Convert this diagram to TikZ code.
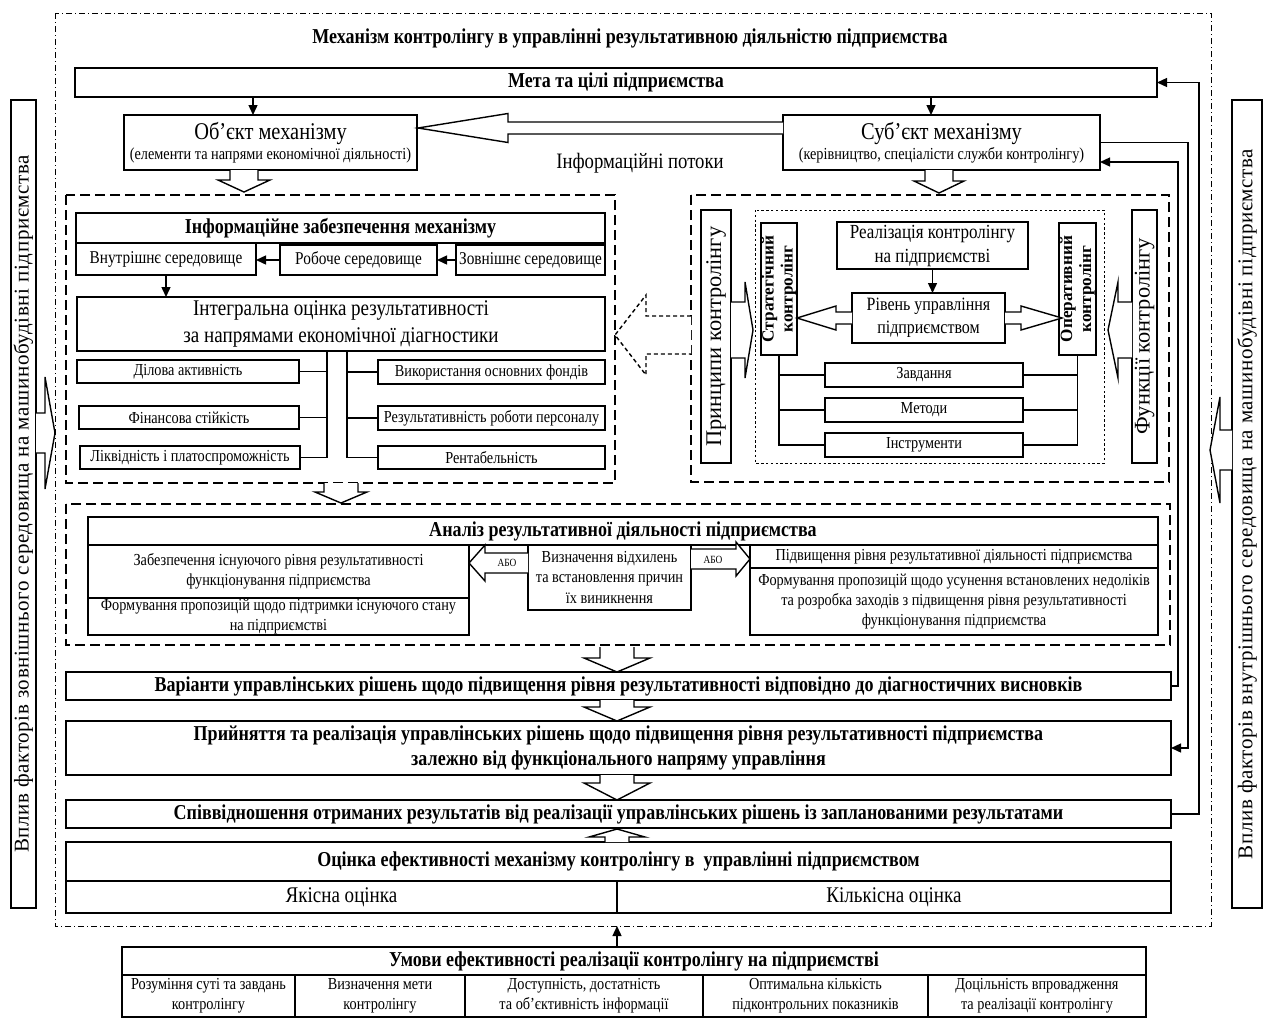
\documentclass[tikz,border=0pt]{standalone}
\usepackage{fontspec}
\setmainfont{Liberation Serif}[FakeStretch=0.85]
\newfontfamily\widefont{Liberation Serif}
\newfontfamily\sidefont{Liberation Serif}[LetterSpace=3]
\usetikzlibrary{calc,arrows.meta}

% font sizes (1 px of the layout grid = 0.5pt)
\newcommand\fBig{\fontsize{10.6}{12.6}\selectfont\bfseries}
\newcommand\fHead{\fontsize{12}{14}\selectfont}
\newcommand\fReg{\fontsize{11.2}{13.6}\selectfont}
\newcommand\fMid{\fontsize{9}{11}\selectfont}
\newcommand\fSm{\fontsize{8.4}{10.2}\selectfont}
\newcommand\fTiny{\fontsize{5.5}{6}\selectfont}
\newcommand\fSide{\sidefont\fontsize{10.5}{12}\selectfont}
\newcommand\fPrin{\widefont\fontsize{11.2}{13}\selectfont}
\newcommand\fRot{\widefont\fontsize{8.6}{9.6}\selectfont\bfseries}

\tikzset{
  box/.style={draw, line width=0.7pt, fill=white, inner sep=0pt, outer sep=0pt, align=center},
  hollow/.style={draw, line width=0.7pt, fill=white, line join=miter},
  dhollow/.style={hollow, dash pattern=on 2pt off 1.5pt},
  link/.style={line width=0.7pt},
  arr/.style={line width=0.7pt, -{Triangle[length=5pt,width=4.5pt]}},
  dashframe/.style={line width=0.9pt, dash pattern=on 5pt off 2.5pt},
  dashdotframe/.style={line width=0.5pt, dash pattern=on 3pt off 1.5pt on 0.5pt off 1.5pt},
  dotframe/.style={line width=0.4pt, dash pattern=on 1.2pt off 1.2pt},
}

% box given by its corners: [options]{name}{x1}{y1}{x2}{y2}{text}
\newcommand\bx[7][]{\node[box,minimum width={(#5-#3)*0.5pt},minimum height={(#6-#4)*0.5pt},#1] (#2) at ({(#3+#5)/2},{(#4+#6)/2}) {#7};}
% vertical hollow arrow: {cx}{y start}{y head base}{y tip}{shaft half}{head half}
\newcommand\hv[7][hollow]{\draw[#1] ({#2-#6},#3) -- ({#2-#6},#4) -- ({#2-#7},#4) -- (#2,#5) -- ({#2+#7},#4) -- ({#2+#6},#4) -- ({#2+#6},#3);}
% horizontal hollow arrow: {cy}{x start}{x head base}{x tip}{shaft half}{head half}
\newcommand\hh[7][hollow]{\draw[#1] (#3,{#2-#6}) -- (#4,{#2-#6}) -- (#4,{#2-#7}) -- (#5,#2) -- (#4,{#2+#7}) -- (#4,{#2+#6}) -- (#3,{#2+#6});}

\begin{document}
\begin{tikzpicture}[x=0.5pt,y=-0.5pt]
\useasboundingbox (0,0) rectangle (1267,1018);

% ---------- frames ----------
\draw[dashdotframe] (55,13) rectangle (1211,926);
\draw[dashframe] (66,195) rectangle (615,483);
\draw[dashframe] (691,195) rectangle (1169,482);
\draw[dotframe] (755,210) rectangle (1104,463);
\draw[dashframe] (66,504) rectangle (1170,645);

% ---------- side blocks ----------
\node[box,rotate=90,minimum width=404pt,minimum height=12.5pt,font=\fSide] (ext) at (23.5,504)
  {Вплив факторів зовнішнього середовища на машинобудівні підприємства};
\node[box,rotate=90,minimum width=404pt,minimum height=15pt,font=\fSide] (int) at (1247,504)
  {Вплив факторів внутрішнього середовища на машинобудівні підприємства};
\hh{433}{36}{45}{55}{20}{56}
\hh{450}{1232}{1220}{1210}{20}{53}

% ---------- top part ----------
\node[font=\fBig] (title) at (630,38) {Механізм контролінгу в управлінні результативною діяльністю підприємства};
\bx[font=\fBig]{meta}{75}{68}{1157}{97}{Мета та цілі підприємства}
\bx[font=\fSm]{obj}{124}{115}{417}{170}{{\fHead Об’єкт механізму}\\(елементи та напрями економічної діяльності)}
\bx[font=\fSm]{sub}{783}{115}{1100}{170}{{\fHead Суб’єкт механізму}\\(керівництво, спеціалісти служби контролінгу)}
\coordinate (m1) at (253,97);
\coordinate (m2) at (931,97);
\draw[arr] (m1) -- (m1 |- obj.north);
\draw[arr] (m2) -- (m2 |- sub.north);
\hh{128}{783}{508}{418}{6}{14.5}
\node[font=\fontsize{11}{13}\selectfont] (flows) at (640,163) {Інформаційні потоки};
\hv{244}{170}{180}{192}{14}{26}
\hv{939}{170}{181}{193}{14}{25}

% ---------- information support ----------
\bx[font=\fBig]{infz}{76}{213}{605}{243}{Інформаційне забезпечення механізму}
\bx[font=\fMid]{vnut}{76}{243}{256}{275}{Внутрішнє середовище}
\bx[font=\fMid]{rob}{280}{245}{437}{275}{Робоче середовище}
\bx[font=\fMid]{zovn}{456}{245}{605}{275}{Зовнішнє середовище}
\bx[font=\fReg]{integ}{77}{297}{605}{351}{Інтегральна оцінка результативності\\за напрямами економічної діагностики}
\bx[font=\fSm]{dil}{77}{360}{299}{383}{Ділова активність}
\bx[font=\fSm]{fin}{79}{406}{299}{429}{Фінансова стійкість}
\bx[font=\fSm]{liq}{80}{446}{300}{469}{Ліквідність і платоспроможність}
\bx[font=\fSm]{fond}{378}{360}{605}{384}{Використання основних фондів}
\bx[font=\fSm]{pers}{378}{406}{605}{430}{Результативність роботи персоналу}
\bx[font=\fSm]{rent}{378}{446}{605}{469}{Рентабельність}
\draw[arr] (rob.west) -- (rob.west -| vnut.east);
\draw[arr] (zovn.west) -- (zovn.west -| rob.east);
\draw[arr] (vnut.south) -- (vnut.south |- integ.north);
\coordinate (tl) at (327,457);
\coordinate (tr) at (347,457);
\draw[link] (tl |- integ.south) |- (liq.east);
\draw[link] (dil.east) -- (dil.east -| tl);
\draw[link] (fin.east) -- (fin.east -| tl);
\draw[link] (tr |- integ.south) |- (rent.west);
\draw[link] (fond.west) -- (fond.west -| tr);
\draw[link] (pers.west) -- (pers.west -| tr);

% ---------- controlling ----------
\node[box,rotate=90,minimum width=126.5pt,minimum height=15pt,font=\fPrin] (princ) at (716,336.5) {Принципи контролінгу};
\node[box,rotate=90,minimum width=126.5pt,minimum height=12.5pt,font=\fPrin] (funk) at (1144.5,336.5) {Функції контролінгу};
\node[box,rotate=90,minimum width=66pt,minimum height=18pt,font=\fRot] (strat) at (779,289) {Стратегічний\\контролінг};
\node[box,rotate=90,minimum width=66pt,minimum height=18.5pt,font=\fRot] (oper) at (1077.5,289) {Оперативний\\контролінг};
\bx[font=\fontsize{10}{12}\selectfont]{real}{837}{222}{1028}{269}{Реалізація контролінгу\\на підприємстві}
\bx[font=\fontsize{9.4}{11.5}\selectfont]{riv}{852}{293}{1005}{343}{Рівень управління\\підприємством}
\bx[font=\fSm]{zavd}{825}{363}{1023}{387}{Завдання}
\bx[font=\fSm]{meth}{825}{398}{1023}{422}{Методи}
\bx[font=\fSm]{instr}{825}{433}{1023}{457}{Інструменти}
\draw[arr] (real.south) -- (real.south |- riv.north);
\hh{318}{852}{836}{797}{6}{12}
\hh{318}{1005}{1021}{1062}{6}{12}
\draw[link] (strat.west) |- (instr.west);
\draw[link] (zavd.west) -- (zavd.west -| strat.west);
\draw[link] (meth.west) -- (meth.west -| strat.west);
\draw[link] (oper.west) |- (instr.east);
\draw[link] (zavd.east) -- (zavd.east -| oper.west);
\draw[link] (meth.east) -- (meth.east -| oper.west);
\hh{330}{731}{745}{753}{28}{48}
\hh{330}{1132}{1118}{1108}{28}{48}
\hh[dhollow]{335}{691}{646}{615}{19}{40}

% ---------- analysis ----------
\hv{341}{483}{492}{503}{17}{26}
\bx[font=\fBig]{antitle}{88}{517}{1158}{545}{Аналіз результативної діяльності підприємства}
\bx[font=\fSm]{zab}{88}{545}{469}{598}{Забезпечення існуючого рівня результативності\\функціонування підприємства}
\bx[font=\fSm]{pidt}{88}{598}{469}{635}{Формування пропозицій щодо підтримки існуючого стану\\на підприємстві}
\bx[font=\fSm]{vyzn}{528}{545}{691}{610}{Визначення відхилень\\та встановлення причин\\їх виникнення}
\bx[font=\fSm]{pidv}{750}{545}{1158}{568}{Підвищення рівня результативної діяльності підприємства}
\bx[font=\fSm]{usun}{750}{568}{1158}{635}{Формування пропозицій щодо усунення встановлених недоліків\\та розробка заходів з підвищення рівня результативності\\функціонування підприємства}
\hh{563}{528}{485}{469}{10}{18}
\hh{559}{691}{736}{750}{10}{17}
\node[font=\fTiny] (abo1) at (507,563) {АБО};
\node[font=\fTiny] (abo2) at (713,560) {АБО};

% ---------- decisions ----------
\hv{617}{647}{658}{672}{17}{33}
\bx[font=\fBig]{var}{66}{672}{1171}{700}{Варіанти управлінських рішень щодо підвищення рівня результативності відповідно до діагностичних висновків}
\hv{617}{700}{707}{721}{17}{33}
\bx[font=\fBig]{prin}{66}{721}{1171}{775}{Прийняття та реалізація управлінських рішень щодо підвищення рівня результативності підприємства\\залежно від функціонального напряму управління}
\hv{617}{775}{783}{800}{17}{33}
\bx[font=\fBig]{spiv}{66}{800}{1171}{828}{Співвідношення отриманих результатів від реалізації управлінських рішень із запланованими результатами}
\bx[font=\fBig]{ots}{66}{842}{1171}{881}{Оцінка ефективності механізму контролінгу в\ \ управлінні підприємством}
\bx[font=\fReg]{yak}{66}{881}{617}{913}{Якісна оцінка}
\bx[font=\fReg]{kil}{617}{881}{1171}{913}{Кількісна оцінка}
\hv{617}{842}{837}{829}{12}{28}

% ---------- feedback lines ----------
\draw[arr] (var.east) -- ++(7,0) |- ([yshift=-9.75pt]sub.east);
\draw[arr] (sub.east) -- ++(88,0) |- (prin.east);
\draw[arr] (spiv.east) -- ++(28,0) |- (meta.east);

% ---------- conditions ----------
\bx[font=\fBig]{umt}{122}{947}{1146}{975}{Умови ефективності реалізації контролінгу на підприємстві}
\bx[font=\fSm]{u1}{122}{975}{295}{1017}{Розуміння суті та завдань\\контролінгу}
\bx[font=\fSm]{u2}{295}{975}{465}{1017}{Визначення мети\\контролінгу}
\bx[font=\fSm]{u3}{465}{975}{703}{1017}{Доступність, достатність\\та об’єктивність інформації}
\bx[font=\fSm]{u4}{703}{975}{928}{1017}{Оптимальна кількість\\підконтрольних показників}
\bx[font=\fSm]{u5}{928}{975}{1146}{1017}{Доцільність впровадження\\та реалізації контролінгу}
\coordinate (fr) at (617,926);
\draw[arr] (fr |- umt.north) -- (fr);
\end{tikzpicture}
\end{document}
